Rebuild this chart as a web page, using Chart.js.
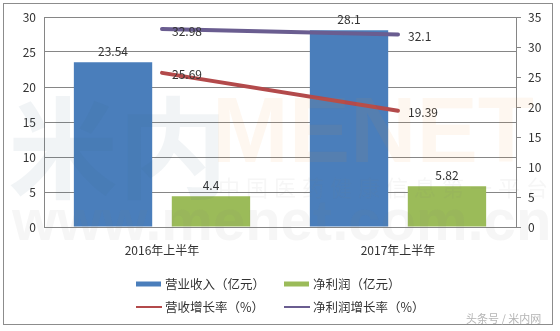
<!DOCTYPE html>
<html>
<head>
<meta charset="utf-8">
<script src="https://cdn.jsdelivr.net/npm/chart.js@4/dist/chart.umd.min.js"></script>
<style>
  html, body { margin: 0; padding: 0; background: #fff; }
  #wrap { width: 560px; height: 331px; }
</style>
</head>
<body>
<div id="wrap"><canvas id="myChart" width="560" height="331"></canvas></div>
<script>
const categories = ['2016年上半年', '2017年上半年'];
const revenue = [23.54, 28.1];        // 营业收入（亿元）
const netProfit = [4.4, 5.82];        // 净利润（亿元）
const revenueGrowth = [25.69, 19.39]; // 营收增长率（%）
const profitGrowth = [32.98, 32.1];   // 净利润增长率（%）

const FONT = '"Noto Sans CJK SC", "Liberation Sans", sans-serif';
const TEXT = '#333333';
const GRID = '#868686';

// frame + white background
const framePlugin = {
    id: 'frame',
    beforeDraw(chart) {
        const ctx = chart.ctx;
        ctx.save();
        ctx.fillStyle = '#fff';
        ctx.fillRect(0, 0, chart.width, chart.height);
        ctx.strokeStyle = '#8c8c8c';
        ctx.lineWidth = 1;
        ctx.strokeRect(3.5, 3.5, 549, 321);
        ctx.restore();
    }
};

// value labels: above bars, right of line points
const labelPlugin = {
    id: 'valueLabels',
    afterDatasetsDraw(chart) {
        const ctx = chart.ctx;
        ctx.save();
        ctx.font = '12px ' + FONT;
        ctx.fillStyle = TEXT;
        chart.data.datasets.forEach((ds, i) => {
            const meta = chart.getDatasetMeta(i);
            meta.data.forEach((el, j) => {
                const v = String(ds.data[j]);
                if (ds.type === 'line') {
                    ctx.textAlign = 'left';
                    ctx.textBaseline = 'middle';
                    ctx.fillText(v, el.x + 10, el.y + 2);
                } else {
                    ctx.textAlign = 'center';
                    ctx.textBaseline = 'bottom';
                    ctx.fillText(v, el.x, el.y - 5);
                }
            });
        });
        ctx.restore();
    }
};

// 2x2 legend under the axis + faint watermarks
const legendPlugin = {
    id: 'gridLegend',
    afterDraw(chart) {
        const ctx = chart.ctx;
        ctx.save();
        const cols = [136, 284];
        const rows = [284, 307];
        chart.data.datasets.forEach((ds, i) => {
            const x = cols[i % 2];
            const y = rows[Math.floor(i / 2)];
            if (ds.type === 'line') {
                ctx.strokeStyle = ds.borderColor;
                ctx.lineWidth = 2;
                ctx.beginPath();
                ctx.moveTo(x, y);
                ctx.lineTo(x + 26, y);
                ctx.stroke();
            } else {
                ctx.fillStyle = ds.backgroundColor;
                ctx.fillRect(x, y - 2.5, 25, 5);
            }
            ctx.fillStyle = TEXT;
            ctx.font = '12.5px ' + FONT;
            ctx.textAlign = 'left';
            ctx.textBaseline = 'middle';
            ctx.fillText(ds.label, x + 29, y);
        });

        // watermarks
        ctx.globalAlpha = 0.07;
        ctx.fillStyle = '#3f5f7f';
        ctx.font = 'bold 110px ' + FONT;
        ctx.textBaseline = 'alphabetic';
        ctx.fillText('米内', 8, 190);
        ctx.fillStyle = '#f08a24';
        ctx.font = 'bold 92px "Liberation Sans", sans-serif';
        ctx.fillText('MENET', 212, 162);
        ctx.fillStyle = '#7a7a7a';
        ctx.font = '22px ' + FONT;
        const wm = '中国医药健康信息第一平台';
        for (let k = 0; k < wm.length; k++) {
            ctx.fillText(wm[k], 218 + k * 28, 196);
        }
        ctx.font = 'bold 58px "Liberation Sans", sans-serif';
        ctx.fillText('www.menet.com.cn', 12, 240);
        ctx.globalAlpha = 1;

        ctx.fillStyle = '#b5b5b5';
        ctx.font = '11px ' + FONT;
        ctx.fillText('头条号 / 米内网', 466, 323);
        ctx.restore();
    }
};

const chart = new Chart(document.getElementById('myChart').getContext('2d'), {
    data: {
        labels: categories,
        datasets: [{
            type: 'bar',
            label: '营业收入（亿元）',
            data: revenue,
            backgroundColor: '#4a7ebb',
            yAxisID: 'y',
            order: 2,
            categoryPercentage: 0.83,
            barPercentage: 0.8
        }, {
            type: 'bar',
            label: '净利润（亿元）',
            data: netProfit,
            backgroundColor: '#9bbb59',
            yAxisID: 'y',
            order: 2,
            categoryPercentage: 0.83,
            barPercentage: 0.8
        }, {
            type: 'line',
            label: '营收增长率（%）',
            data: revenueGrowth,
            borderColor: '#b34a4b',
            borderWidth: 4,
            borderCapStyle: 'round',
            pointRadius: 0,
            yAxisID: 'y1',
            order: 1
        }, {
            type: 'line',
            label: '净利润增长率（%）',
            data: profitGrowth,
            borderColor: '#6a5d90',
            borderWidth: 4,
            borderCapStyle: 'round',
            pointRadius: 0,
            yAxisID: 'y1',
            order: 1
        }]
    },
    options: {
        responsive: false,
        animation: false,
        layout: { padding: { top: 17, left: 0, right: 0, bottom: 0 } },
        plugins: {
            legend: { display: false },
            tooltip: { enabled: false }
        },
        scales: {
            x: {
                grid: { display: false },
                border: { display: false },
                ticks: { color: TEXT, font: { family: FONT, size: 12 }, padding: 8 },
                afterFit(scale) { scale.height = 104; }
            },
            y: {
                position: 'left',
                min: 0,
                max: 30,
                ticks: { stepSize: 5, color: TEXT, font: { family: FONT, size: 12 }, padding: 8 },
                grid: { color: GRID, drawTicks: false },
                border: { display: true, color: GRID },
                afterFit(scale) { scale.width = 44; }
            },
            y1: {
                position: 'right',
                min: 0,
                max: 35,
                ticks: { stepSize: 5, color: TEXT, font: { family: FONT, size: 12 }, padding: 7 },
                grid: { drawOnChartArea: false, drawTicks: true, tickLength: 5, color: GRID },
                border: { display: true, color: GRID },
                afterFit(scale) { scale.width = 44; }
            }
        }
    },
    plugins: [framePlugin, labelPlugin, legendPlugin]
});
</script>
</body>
</html>
